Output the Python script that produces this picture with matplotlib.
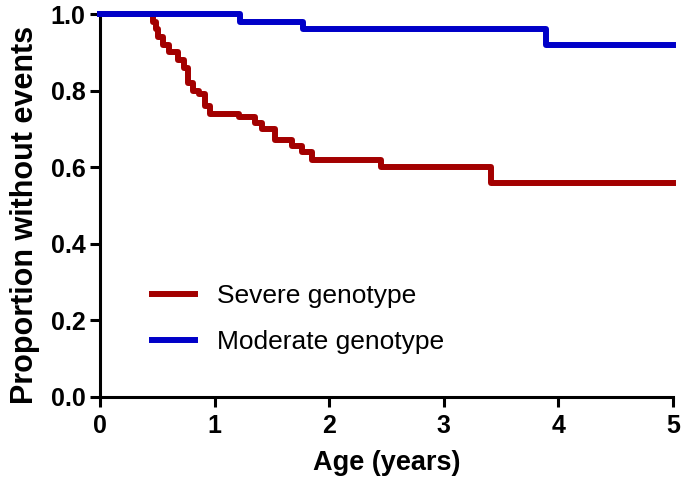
import matplotlib.pyplot as plt

# event-free proportion, step drops (time in years, value after drop)
severe_t = [0, 0.466, 0.49, 0.51, 0.55, 0.60, 0.68, 0.73, 0.77, 0.81, 0.86, 0.92,
            0.96, 1.21, 1.355, 1.41, 1.53, 1.675, 1.76, 1.85, 2.45, 3.41, 5.0]
severe_s = [1.0, 0.98, 0.96, 0.94, 0.92, 0.90, 0.88, 0.86, 0.82, 0.80, 0.79, 0.76,
            0.74, 0.73, 0.715, 0.70, 0.67, 0.655, 0.64, 0.62, 0.60, 0.56, 0.56]

moderate_t = [0, 1.22, 1.77, 3.89, 5.0]
moderate_s = [1.0, 0.98, 0.96, 0.92, 0.92]

x_ticks = [0, 1, 2, 3, 4, 5]
y_ticks = [0.0, 0.2, 0.4, 0.6, 0.8, 1.0]

plt.rcParams['font.family'] = ['Liberation Sans', 'DejaVu Sans']

fig = plt.figure(figsize=(6.81, 4.83), dpi=100)
ax = fig.add_axes([100/681, 86/483, 573/681, 383/483])

ax.step(severe_t, severe_s, where='post', color='#A30000', lw=4.3,
        label='Severe genotype', clip_on=False, zorder=3)
ax.step(moderate_t, moderate_s, where='post', color='#0000C8', lw=4.3,
        label='Moderate genotype', clip_on=False, zorder=3)

ax.set_xlim(0, 5)
ax.set_ylim(0, 1.0)
ax.set_xticks(x_ticks)
ax.set_yticks(y_ticks)
ax.set_xticklabels([str(t) for t in x_ticks])
ax.set_yticklabels(['%.1f' % t for t in y_ticks])

for s in ['top', 'right']:
    ax.spines[s].set_visible(False)
for s in ['left', 'bottom']:
    ax.spines[s].set_linewidth(2.2)

ax.tick_params(direction='out', length=7, width=2.2, labelsize=18, pad=3.5)
ax.tick_params(axis='x', pad=5)
for lab in ax.get_xticklabels() + ax.get_yticklabels():
    lab.set_fontweight('bold')

ax.set_xlabel('Age (years)', fontsize=19.5, fontweight='bold')
ax.set_ylabel('Proportion without events', fontsize=22, fontweight='bold')
ax.xaxis.set_label_coords(0.5, -0.138)
ax.yaxis.set_label_coords(-0.105, 0.475)

leg = ax.legend(loc='center left', bbox_to_anchor=(0.091, 0.204), frameon=False,
                fontsize=19, handlelength=1.63, handletextpad=0.83,
                borderpad=0, borderaxespad=0, labelspacing=0.83)

fig.savefig('out.png', dpi=100)
